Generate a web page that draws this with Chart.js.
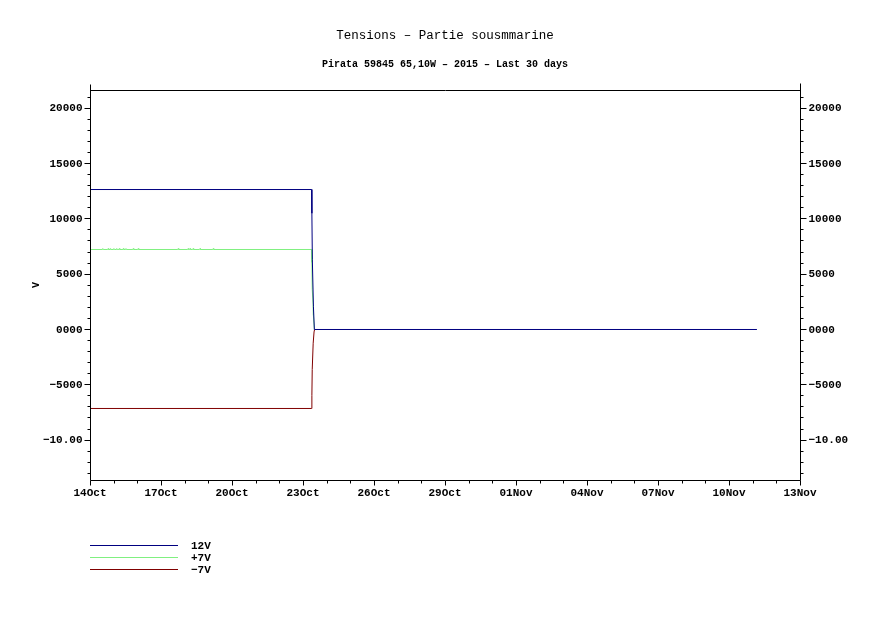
<!DOCTYPE html>
<html>
<head>
<meta charset="utf-8">
<script src="https://cdn.jsdelivr.net/npm/chart.js@4/dist/chart.umd.min.js"></script>
<style>
html,body{margin:0;padding:0;background:#fff;}
#wrap{width:891px;height:630px;position:relative;}
</style>
</head>
<body>
<div id="wrap"><canvas id="c" width="891" height="630"></canvas></div>
<script>
// ---- data (x = days since 14Oct 00:00) ----
const titleText = "Tensions \u2013 Partie sousmmarine";
const subtitleText = "Pirata 59845 65,10W \u2013 2015 \u2013 Last 30 days";
const yAxisTitle = "V";
const xTickLabels = ["14Oct","17Oct","20Oct","23Oct","26Oct","29Oct","01Nov","04Nov","07Nov","10Nov","13Nov"];
const yTickValues = [20000, 15000, 10000, 5000, 0, -5000, -10000];
const yTickLabels = ["20000","15000","10000","5000","0000","\u22125000","\u221210.00"];
const seriesLabels = ["12V", "+7V", "\u22127V"];

const days12V = [0, 9.365, 9.375, 9.395, 9.44, 9.48, 28.18];
const vals12V = [12650, 12650, 10500, 6300, 2100, 0, 0];

const days7Vp = [0, 0.52, 0.54, 0.56, 0.75, 0.77, 0.79, 0.85, 0.87, 0.89, 0.99, 1.01, 1.03, 1.11, 1.13, 1.15,
                 1.22, 1.24, 1.26, 1.39, 1.41, 1.43, 1.50, 1.52, 1.54, 1.81, 1.83, 1.85, 2.02, 2.04, 2.06,
                 3.71, 3.73, 3.75, 4.13, 4.15, 4.17, 4.21, 4.23, 4.25, 4.34, 4.36, 4.38, 4.63, 4.65, 4.67,
                 5.19, 5.21, 5.23, 9.365, 9.375, 9.39, 9.43, 9.44, 9.48];
const vals7Vp = [7230, 7230, 7320, 7230, 7230, 7320, 7230, 7230, 7320, 7230, 7230, 7320, 7230, 7230, 7320, 7230,
                 7230, 7320, 7230, 7230, 7320, 7230, 7230, 7320, 7230, 7230, 7320, 7230, 7230, 7320, 7230,
                 7230, 7320, 7230, 7230, 7320, 7230, 7230, 7320, 7230, 7230, 7320, 7230, 7230, 7320, 7230,
                 7230, 7320, 7230, 7230, 6060, 3620, 2170, 1270, 0];

const days7Vm = [0, 9.365, 9.375, 9.39, 9.43, 9.47, 9.48];
const vals7Vm = [-7140, -7140, -5970, -3620, -1240, -150, 0];

const colors = ["#000080", "#80f080", "#800000"];

function pts(xs, ys){ return xs.map((x,i)=>({x:x, y:ys[i]})); }

const Y_MIN = -13604, Y_MAX = 21646;
const monoFam = "'Liberation Mono', 'DejaVu Sans Mono', monospace";
const tickFont = {family: monoFam, size: 11, weight: "bold"};

const decor = {
  id: 'decor',
  afterDraw(chart){
    const ctx = chart.ctx, a = chart.chartArea;
    const ys = chart.scales.y, xs = chart.scales.x;
    ctx.save();
    ctx.strokeStyle = '#000'; ctx.lineWidth = 1;
    const L = Math.round(a.left)+0.5, R = Math.round(a.right)+0.5, T = Math.round(a.top)+0.5, B = Math.round(a.bottom)+0.5;
    ctx.beginPath();
    ctx.moveTo(L, T-6); ctx.lineTo(L, B); ctx.lineTo(R, B); ctx.lineTo(R, T-7);
    ctx.moveTo(L, T); ctx.lineTo(R, T);
    ctx.stroke();
    // y ticks
    ctx.beginPath();
    for (let v = -13000; v <= 21000; v += 1000){
      const p = Math.floor(ys.getPixelForValue(v)) + 0.5;
      const len = (v % 5000 === 0) ? 6 : 3;
      ctx.moveTo(L - len, p); ctx.lineTo(L, p);
      ctx.moveTo(R, p); ctx.lineTo(R + len, p);
    }
    // x ticks
    for (let d = 0; d <= 30; d += 1){
      const p = Math.round(xs.getPixelForValue(d)) + 0.5;
      const len = (d % 3 === 0) ? 5 : 3;
      ctx.moveTo(p, B); ctx.lineTo(p, B + len);
    }
    ctx.stroke();
    // y tick labels (left and right)
    ctx.fillStyle = '#000';
    ctx.font = "bold 11px " + monoFam;
    ctx.textBaseline = 'middle';
    yTickValues.forEach((v, i) => {
      const p = ys.getPixelForValue(v);
      ctx.textAlign = 'right';
      ctx.fillText(yTickLabels[i], L - 8, p + 0.5);
      ctx.textAlign = 'left';
      ctx.fillText(yTickLabels[i], R + 8, p + 0.5);
    });
    // titles
    ctx.textAlign = 'center';
    const cx = (a.left + a.right) / 2;
    ctx.font = "12.5px " + monoFam;
    ctx.fillText(titleText, cx, 36);
    ctx.font = "bold 10px " + monoFam;
    ctx.fillText(subtitleText, cx, 64);
    // y axis title
    ctx.save();
    ctx.translate(36, (a.top + a.bottom) / 2);
    ctx.rotate(-Math.PI / 2);
    ctx.font = "bold 10px " + monoFam;
    ctx.fillText(yAxisTitle, 0, 0);
    ctx.restore();
    // legend
    const legY = [545, 557, 569];
    ctx.textAlign = 'left';
    ctx.font = "bold 11px " + monoFam;
    chart.data.datasets.forEach((ds, i) => {
      ctx.strokeStyle = ds.borderColor;
      ctx.beginPath();
      ctx.moveTo(90, legY[i] + 0.5); ctx.lineTo(178, legY[i] + 0.5);
      ctx.stroke();
      ctx.fillStyle = '#000';
      ctx.fillText(ds.label, 191, legY[i] + 1);
    });
    ctx.restore();
  }
};

new Chart(document.getElementById('c'), {
  type: 'line',
  data: {
    datasets: [
      {label: seriesLabels[0], data: pts(days12V, vals12V), borderColor: colors[0], borderWidth: 1, pointRadius: 0, tension: 0, fill: false},
      {label: seriesLabels[1], data: pts(days7Vp, vals7Vp), borderColor: colors[1], borderWidth: 1, pointRadius: 0, tension: 0, fill: false},
      {label: seriesLabels[2], data: pts(days7Vm, vals7Vm), borderColor: colors[2], borderWidth: 1, pointRadius: 0, tension: 0, fill: false}
    ]
  },
  options: {
    responsive: false,
    animation: false,
    events: [],
    layout: {padding: {top: 90, bottom: 120, left: 0, right: 0}},
    plugins: {legend: {display: false}, title: {display: false}, tooltip: {enabled: false}},
    scales: {
      x: {
        type: 'linear', min: 0, max: 30,
        border: {display: false},
        grid: {display: false, drawTicks: false},
        ticks: {
          stepSize: 1, autoSkip: false, maxRotation: 0, padding: 7,
          color: '#000', font: tickFont,
          callback: (v) => (v % 3 === 0) ? xTickLabels[v / 3] : ''
        },
        afterFit: (s) => { s.height = 30; }
      },
      y: {
        type: 'linear', position: 'left', min: Y_MIN, max: Y_MAX,
        border: {display: false},
        grid: {display: false, drawTicks: false},
        ticks: {display: false},
        afterFit: (s) => { s.width = 90; }
      },
      y2: {
        type: 'linear', position: 'right', display: true, min: Y_MIN, max: Y_MAX,
        border: {display: false},
        grid: {display: false, drawTicks: false},
        ticks: {display: false},
        afterFit: (s) => { s.width = 91; }
      }
    }
  },
  plugins: [decor]
});
</script>
</body>
</html>
